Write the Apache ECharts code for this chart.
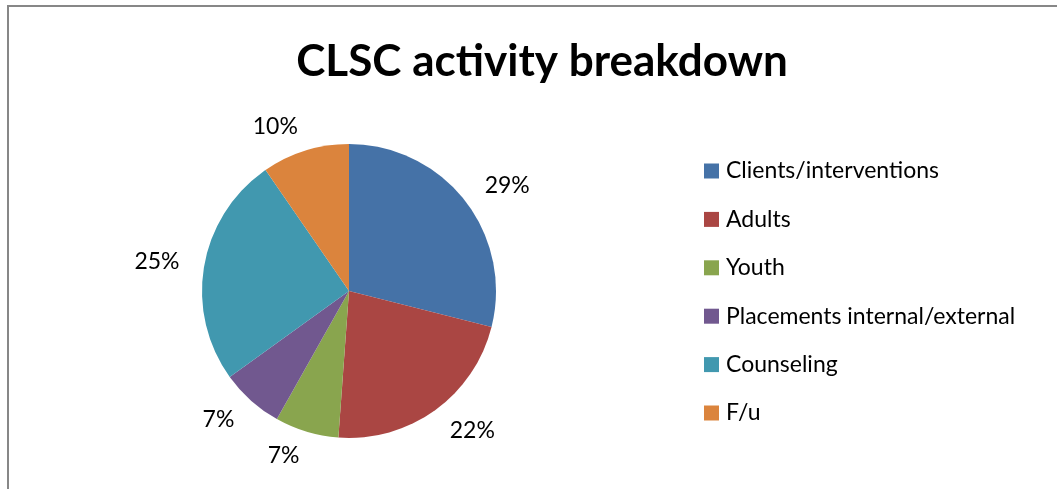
<!DOCTYPE html>
<html>
<head>
<meta charset="utf-8">
<script src="https://cdn.jsdelivr.net/npm/echarts@6/dist/echarts.min.js"></script>
<style>
  html, body { margin: 0; padding: 0; background: #fff; }
  #chart { width: 1057px; height: 489px; }
</style>
</head>
<body>
<div id="chart"></div>
<script>
// slices, clockwise from 12 o'clock (shares)
var categories = ['Clients/interventions', 'Adults', 'Youth', 'Placements internal/external', 'Counseling', 'F/u'];
var shares = [28.9, 22.2, 7.0, 6.9, 25.3, 9.6];
var colors = ['#4572A7', '#AA4643', '#89A54E', '#71588F', '#4198AF', '#DB843D'];

var pieData = [];
for (var i = 0; i < categories.length; i++) {
    pieData.push({ name: categories[i], value: shares[i] });
}

var chart = echarts.init(document.getElementById('chart'));

chart.setOption({
    animation: false,
    color: colors,
    title: {
        text: 'CLSC activity breakdown',
        left: 537,
        textAlign: 'center',
        top: 35,
        textStyle: { fontFamily: 'Lato', fontWeight: 'bold', fontSize: 44, color: '#000' }
    },
    legend: {
        orient: 'vertical',
        left: 699,
        top: 154,
        data: categories,
        icon: 'rect',
        itemWidth: 15,
        itemHeight: 15,
        itemGap: 24.4,
        selectedMode: false,
        textStyle: { fontFamily: 'Lato', fontSize: 23, lineHeight: 24, color: '#000', padding: [0, 0, 0, 2] }
    },
    graphic: [{
        type: 'rect',
        shape: { x: 8, y: 6, width: 1100, height: 520 },
        style: { fill: 'none', stroke: '#878787', lineWidth: 2 },
        silent: true
    }],
    series: [{
        type: 'pie',
        center: [349, 291],
        radius: [0, 147],
        startAngle: 90,
        clockwise: true,
        silent: true,
        avoidLabelOverlap: false,
        itemStyle: { borderWidth: 0 },
        label: {
            show: true,
            position: 'outside',
            distanceToLabelLine: 0,
            formatter: function (p) { return Math.round(p.percent) + '%'; },
            fontFamily: 'Lato',
            fontSize: 23,
            color: '#000'
        },
        labelLine: { show: false, length: 25, length2: 0 },
        data: pieData
    }]
});
</script>
</body>
</html>
